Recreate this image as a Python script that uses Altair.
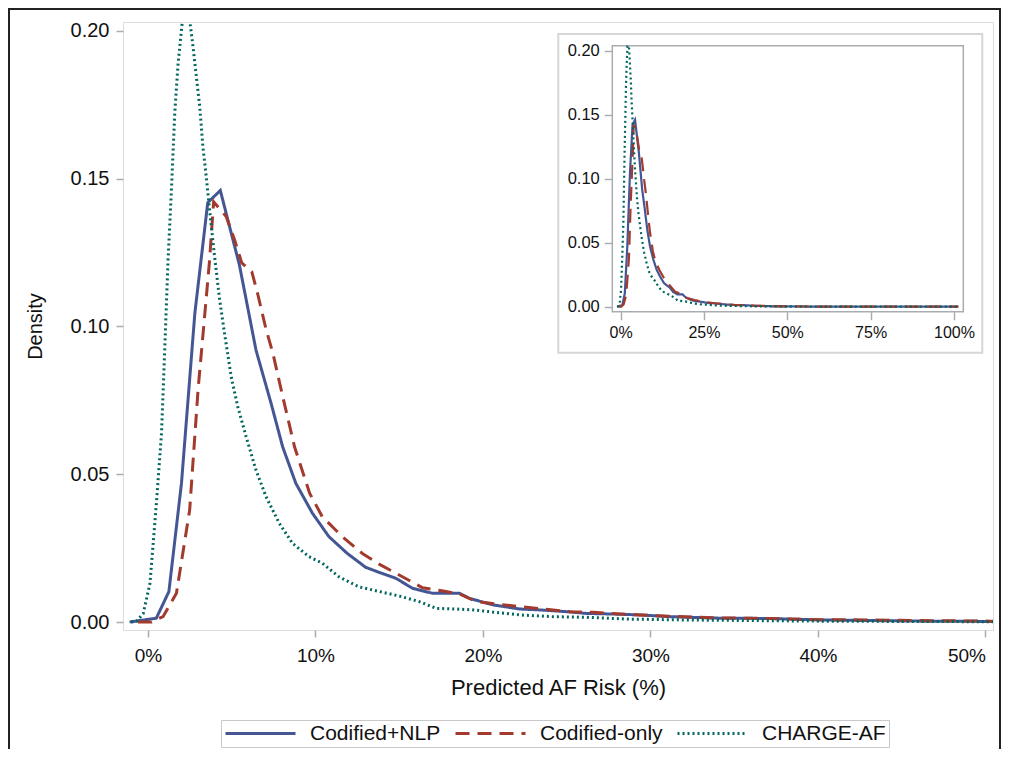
import altair as alt
import pandas as pd

# ---- data (x in %, y = density) ----
nlp_x = [-1.1, 0.5, 1.25, 2.0, 2.8, 3.57, 4.32, 5.46, 6.45, 7.35, 8.04, 8.83, 9.82, 10.8, 11.9,
         13.0, 13.8, 14.8, 15.8, 17.0, 18.6, 19.2, 20.6, 22.2, 23.4, 25.0, 26.2, 27.8, 29.4,
         31.2, 34.1, 37.1, 40.1, 43.1, 46.1, 50.3, 60.0, 75.0, 90.0, 101.3]
nlp_y = [0.0, 0.0013, 0.0103, 0.0469, 0.1045, 0.1419, 0.1460, 0.1208, 0.0920, 0.0740, 0.0593,
         0.0469, 0.0368, 0.0289, 0.0232, 0.0185, 0.0168, 0.0148, 0.0114, 0.0097, 0.0097, 0.0080,
         0.0058, 0.0044, 0.0041, 0.0035, 0.0029, 0.0027, 0.0024, 0.0018, 0.0013, 0.0012, 0.0007,
         0.0005, 0.0003, 0.0002, 0.0001, 0.00005, 0.0, 0.0]

cod_x = [-0.6, 0.2, 0.9, 1.7, 2.49, 2.99, 3.38, 3.68, 3.92, 4.67, 5.17, 5.6, 6.2, 6.56, 7.06,
         7.46, 8.05, 8.75, 9.65, 10.41, 11.6, 12.8, 13.8, 15.0, 16.4, 17.8, 18.6, 19.6, 20.8,
         22.2, 23.6, 25.2, 26.6, 28.2, 31.2, 34.1, 37.1, 40.1, 43.1, 46.1, 50.3, 60.0, 75.0,
         90.0, 101.3]
cod_y = [0.0, 0.0, 0.0018, 0.0097, 0.0379, 0.0785, 0.1033, 0.1225, 0.1422, 0.1372, 0.1293,
         0.1215, 0.1185, 0.1108, 0.0988, 0.0909, 0.0762, 0.0593, 0.0436, 0.0356, 0.0289, 0.0232,
         0.0196, 0.0159, 0.0116, 0.0103, 0.0095, 0.0069, 0.0061, 0.0052, 0.0044, 0.0035, 0.0033,
         0.0027, 0.0019, 0.0014, 0.0012, 0.0008, 0.0007, 0.0005, 0.0003, 0.0001, 0.00005, 0.0, 0.0]

chg_x = [-1.0, -0.67, -0.28, 0.12, 0.52, 0.81, 1.0, 1.2, 1.41, 1.6, 1.8, 2.06, 2.27, 2.49, 2.69,
         2.89, 3.09, 3.28, 3.48, 3.68, 3.95, 4.28, 4.57, 4.97, 5.36, 5.86, 6.45, 7.05, 7.84, 8.63,
         9.62, 10.41, 11.4, 12.59, 13.83, 15.0, 16.2, 17.2, 18.4, 19.4, 20.4, 22.2, 24.2, 26.2,
         28.6, 32.0, 36.0, 40.0, 45.0, 50.3, 60.0, 75.0, 90.0, 101.3]
chg_y = [0.0, 0.0003, 0.0029, 0.0131, 0.0413, 0.0639, 0.0920, 0.1225, 0.1473, 0.1722, 0.1890,
         0.2037, 0.2120, 0.2037, 0.1947, 0.1845, 0.1744, 0.1608, 0.1507, 0.1394, 0.1250, 0.1090,
         0.0977, 0.0830, 0.0729, 0.0627, 0.0514, 0.0424, 0.0334, 0.0266, 0.0221, 0.0199, 0.0153,
         0.0119, 0.0103, 0.0088, 0.0069, 0.0046, 0.0044, 0.0041, 0.0035, 0.0024, 0.0018, 0.0016,
         0.0010, 0.0007, 0.0005, 0.0003, 0.0002, 0.0001, 0.00005, 0.0, 0.0, 0.0]

series_names = ["Codified+NLP", "Codified-only", "CHARGE-AF"]
series_colors = ["#445694", "#A23A2E", "#01665E"]
series_dashes = [[1, 0], [14, 8], [2, 3]]

main_x_ticks = [0, 10, 20, 30, 40, 50]
main_y_ticks = [0.0, 0.05, 0.10, 0.15, 0.20]
inset_x_ticks = [0, 25, 50, 75, 100]
inset_y_ticks = [0.0, 0.05, 0.10, 0.15, 0.20]

rows = []
for name, xs, ys in zip(series_names, [nlp_x, cod_x, chg_x], [nlp_y, cod_y, chg_y]):
    for i, (a, b) in enumerate(zip(xs, ys)):
        rows.append({"series": name, "x": a, "y": b, "order": i})
df = pd.DataFrame(rows)

FONT = "Liberation Sans"
W, H = 870, 608
FRAME = "#a9adb1"

color_scale = alt.Scale(domain=series_names, range=series_colors)
dash_scale = alt.Scale(domain=series_names, range=series_dashes)
legend = alt.Legend(
    title=None, orient="none", legendX=98, legendY=698, direction="horizontal",
    symbolType="stroke", symbolSize=4900, symbolStrokeWidth=3, clipHeight=21,
    labelFont=FONT, labelFontSize=21, labelColor="#111",
    strokeColor="#c8c8c8", padding=3, columnPadding=13, labelLimit=300, labelOffset=13,
)

base = alt.Chart(df)

# outer black border
border = alt.Chart(alt.Data(values=[{}])).mark_rect(
    fill="transparent", stroke="#222", strokeWidth=2, clip=False
).encode(x=alt.value(-114), x2=alt.value(877), y=alt.value(-13), y2=alt.value(800))

main = base.mark_line(strokeWidth=3, clip=True).encode(
    x=alt.X("x:Q", scale=alt.Scale(domain=[-1.49, 50.45], nice=False, zero=False),
            axis=alt.Axis(orient="bottom", values=main_x_ticks, labelExpr="datum.value + '%'",
                          title="Predicted AF Risk (%)", domain=False, grid=False,
                          tickSize=7, tickColor=FRAME, tickWidth=1.5, labelFlush=10,
                          labelFont=FONT, labelFontSize=19, labelColor="#111", labelPadding=9,
                          titleFont=FONT, titleFontSize=22, titleFontWeight="normal",
                          titleColor="#111", titlePadding=12)),
    y=alt.Y("y:Q", scale=alt.Scale(domain=[-0.0027, 0.2030], nice=False, zero=False),
            axis=alt.Axis(orient="left", values=main_y_ticks, format=".2f", title="Density",
                          domain=False, grid=False, tickSize=7, tickColor=FRAME, tickWidth=1.5,
                          labelFont=FONT, labelFontSize=20, labelColor="#111", labelPadding=7,
                          titleFont=FONT, titleFontSize=20, titleFontWeight="normal",
                          titleColor="#111", titlePadding=25)),
    color=alt.Color("series:N", scale=color_scale, legend=legend),
    strokeDash=alt.StrokeDash("series:N", scale=dash_scale, legend=legend),
    detail="series:N",
    order="order:Q",
)

# inset outer box and frame
inset_box = alt.Chart(alt.Data(values=[{}])).mark_rect(
    fill="white", stroke="#d4d6d8", strokeWidth=2
).encode(x=alt.value(435.3), x2=alt.value(859.3), y=alt.value(12), y2=alt.value(330.7))

inset_frame = alt.Chart(alt.Data(values=[{}])).mark_rect(
    fill="transparent", stroke=FRAME, strokeWidth=1.5
).encode(x=alt.value(489.3), x2=alt.value(840.3), y=alt.value(23.7), y2=alt.value(289.7))

inset = base.mark_line(strokeWidth=2.2).encode(
    x=alt.X("x:Q", scale=alt.Scale(domain=[-2.5, 102.8], range=[489.3, 840.3], nice=False, zero=False),
            axis=alt.Axis(orient="bottom", offset=-318.3, values=inset_x_ticks, zindex=2,
                          labelExpr="datum.value + '%'", title=None, domain=False, grid=False,
                          tickSize=8, tickColor=FRAME, tickWidth=1.5,
                          labelFont=FONT, labelFontSize=16, labelColor="#111", labelPadding=5)),
    y=alt.Y("y:Q", scale=alt.Scale(domain=[-0.0039, 0.2039], range=[289.7, 23.7], nice=False,
                                   zero=False, clamp=True),
            axis=alt.Axis(orient="left", offset=-489.3, values=inset_y_ticks, format=".2f", zindex=2,
                          title=None, domain=False, grid=False, tickSize=8, tickColor=FRAME,
                          tickWidth=1.5, labelFont=FONT, labelFontSize=16.5, labelColor="#111",
                          labelPadding=5)),
    color=alt.Color("series:N", scale=color_scale, legend=None),
    strokeDash=alt.StrokeDash("series:N", scale=dash_scale, legend=None),
    detail="series:N",
    order="order:Q",
)

chart = alt.layer(border, main, inset_box, inset_frame, inset).resolve_scale(
    x="independent", y="independent"
).properties(
    width=W, height=H,
    autosize=alt.AutoSizeParams(type="none"),
    padding={"left": 115, "top": 14, "right": 8, "bottom": 119},
).configure_view(
    stroke=FRAME, strokeWidth=1.5
).configure(background="white")

chart.save("out.html", embed_options={"renderer": "svg", "actions": False})
